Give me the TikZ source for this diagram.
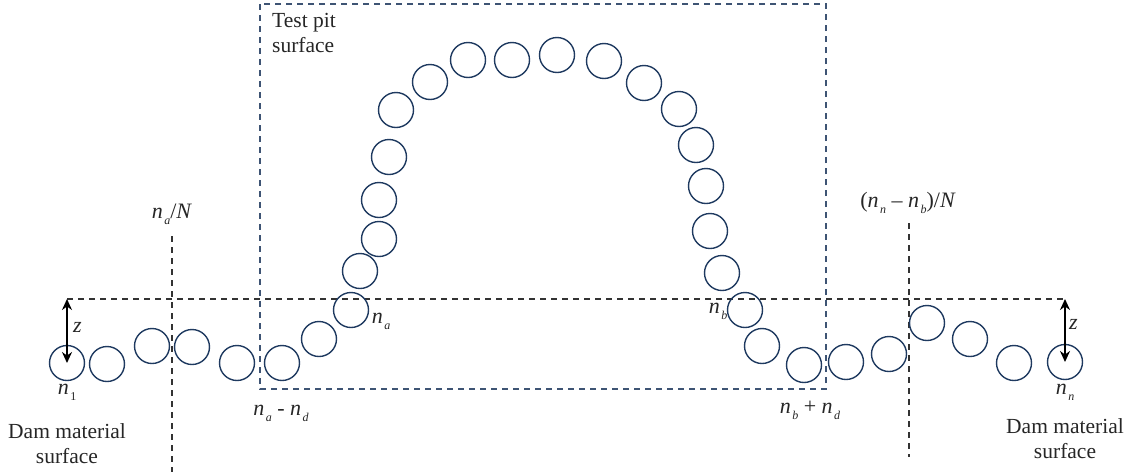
\RequirePackage{fix-cm}
\documentclass[tikz,border=0pt]{standalone}
\usepackage{fontspec}
\setmainfont{Liberation Serif}
\usetikzlibrary{arrows.meta}
\definecolor{ballblue}{HTML}{1F3A60}
\definecolor{pitblue}{HTML}{3E5474}
\definecolor{guidegray}{HTML}{333333}
\newcommand\varn[1]{\textit{n}\kern1.5pt\raisebox{-0.6ex}{\fontsize{12}{12}\selectfont\textit{#1}}}
\tikzset{
  ball/.style={circle, draw=ballblue, line width=1.4pt, minimum size=35pt, inner sep=0pt},
  pitbox/.style={draw=pitblue, line width=1.2pt, dash pattern=on 6pt off 5pt},
  guide/.style={draw=guidegray, line width=1.2pt, dash pattern=on 6pt off 5pt},
  zarrow/.style={line width=2.3pt, {Stealth[length=11pt,width=10pt]}-{Stealth[length=11pt,width=10pt]}},
  lbl/.style={inner sep=0pt, font=\fontsize{21.5}{25}\selectfont, text=black!85},
  mlbl/.style={inner sep=0pt, font=\fontsize{22}{24}\selectfont, text=black!85},
}
\begin{document}
\begin{tikzpicture}[x=1pt,y=-1pt]
\useasboundingbox (0,0) rectangle (1132,472);
% test pit box
\draw[pitbox] (260,4) rectangle (826,389);
% guide lines
\coordinate (hl) at (67,299);
\coordinate (hr) at (1065,299);
\coordinate (vla) at (172,236);
\coordinate (vlb) at (172,472);
\coordinate (vra) at (909,223);
\coordinate (vrb) at (909,457);
\draw[guide] (hl) -- (hr);
\draw[guide] (vla) -- (vlb);
\draw[guide] (vra) -- (vrb);
% balls
\foreach \i/\x/\y in {1/67/363, 2/107/364, 3/152/346, 4/192/347, 5/237/363, 6/282/363,
  7/319/339, 8/351/310, 9/360/271, 10/379/239, 11/379/200, 12/389/157, 13/396/110,
  14/430/82, 15/468/60, 16/512/60, 17/557/55, 18/604/61, 19/644/83, 20/679/109,
  21/696/145, 22/706/186, 23/710/231, 24/722/273, 25/745/310, 26/762/346, 27/804/365,
  28/846/362, 29/889/354, 30/927/323, 31/970/339, 32/1014/363, 33/1065/362}
  \node[ball] (c\i) at (\x,\y) {};
% z arrows
\draw[zarrow] (hl) -- (c1.center);
\draw[zarrow] (hr) -- (c33.center);
\node[mlbl, anchor=west] (zl) at (73,327) {\textit{z}};
\node[mlbl, anchor=west] (zr) at (1069,324) {\textit{z}};
% labels
\node[mlbl] (lna) at (172,214) {\varn{a}/\textit{N}};
\node[mlbl] (lnb) at (908,203) {(\varn{n} – \varn{b})/\textit{N}};
\node[mlbl] (ln1) at (67,392) {\varn{\textup{1}}};
\node[mlbl] (lnn) at (1065,392) {\varn{n}};
\node[mlbl] (lna2) at (381,321) {\varn{a}};
\node[mlbl] (lnb2) at (718,311) {\varn{b}};
\node[mlbl] (lnad) at (281,413) {\varn{a} - \varn{d}};
\node[mlbl] (lnbd) at (810,410) {\varn{b} + \varn{d}};
\node[lbl, align=center] (daml) at (67,444) {Dam material\\surface};
\node[lbl, align=center] (damr) at (1065,439) {Dam material\\surface};
\node[lbl, align=left, anchor=north west] (pit) at (272,13) {Test pit\\surface};
\end{tikzpicture}
\end{document}
